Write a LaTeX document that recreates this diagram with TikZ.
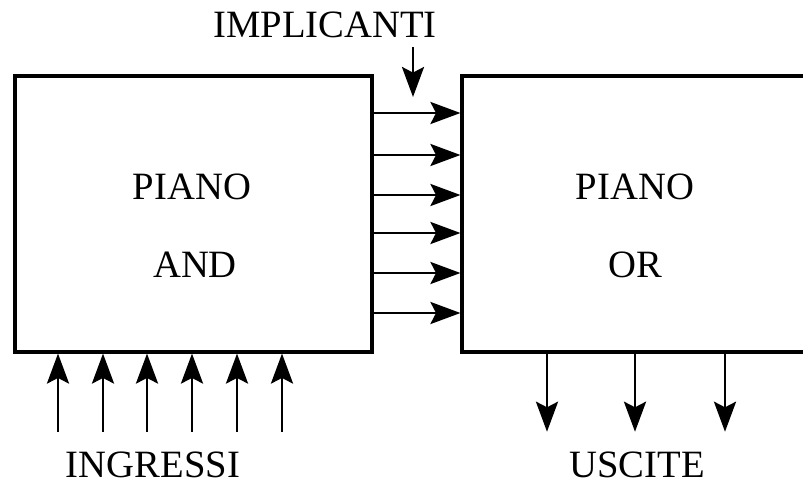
\documentclass[tikz,border=0pt]{standalone}
\usepackage{fontspec}
\setmainfont{Liberation Serif}
\usetikzlibrary{arrows.meta, positioning, fit}

\begin{document}
\begin{tikzpicture}[x=0.025cm, y=-0.025cm, >={Stealth[length=0.75cm, width=0.55cm, inset=0.14cm]},
		plane/.style={draw=black, line width=2.2pt, inner sep=0pt},
		wire/.style={->, line width=2.1pt},
		lbl/.style={font=\fontsize{27.5}{33}\selectfont, inner sep=0pt}]
		
		\useasboundingbox (0,0) rectangle (803,485);
		\clip (0,0) rectangle (803,485);
		
		% Piani
		\node[plane, fit={(15,76) (372,352)}] (andplane) {};
		\node[plane, fit={(462,76) (850,352)}] (orplane) {};
		
		% Testi
		\node[lbl] (pianoand) at (192,187) {PIANO};
		\node[lbl] (andtxt) at (195,265) {AND};
		\node[lbl] (pianoor) at (635,187) {PIANO};
		\node[lbl] (ortxt) at (635,265) {OR};
		\node[lbl] (implicanti) at (325,25) {IMPLICANTI};
		\node[lbl] (ingressi) at (153,465) {INGRESSI};
		\node[lbl] (uscite) at (637,465) {USCITE};
		
		\coordinate (imptop) at (413,47);
		\coordinate (impbot) at (413,97);
		
		% Collegamenti
		\draw[wire] (imptop) -- (impbot);
		\foreach \y in {113,155,195,233,273,313}
			\draw[wire] (andplane.east |- 0,\y) -- (orplane.west |- 0,\y);
		\foreach \x in {58,103,147,192,237,282}
			\draw[wire, shorten <=0.5cm] (ingressi.north -| \x,0) -- (andplane.south -| \x,0);
		\foreach \x in {547,635,725}
			\draw[wire, shorten >=0.5cm] (orplane.south -| \x,0) -- (uscite.north -| \x,0);
		
	\end{tikzpicture}
\end{document}
